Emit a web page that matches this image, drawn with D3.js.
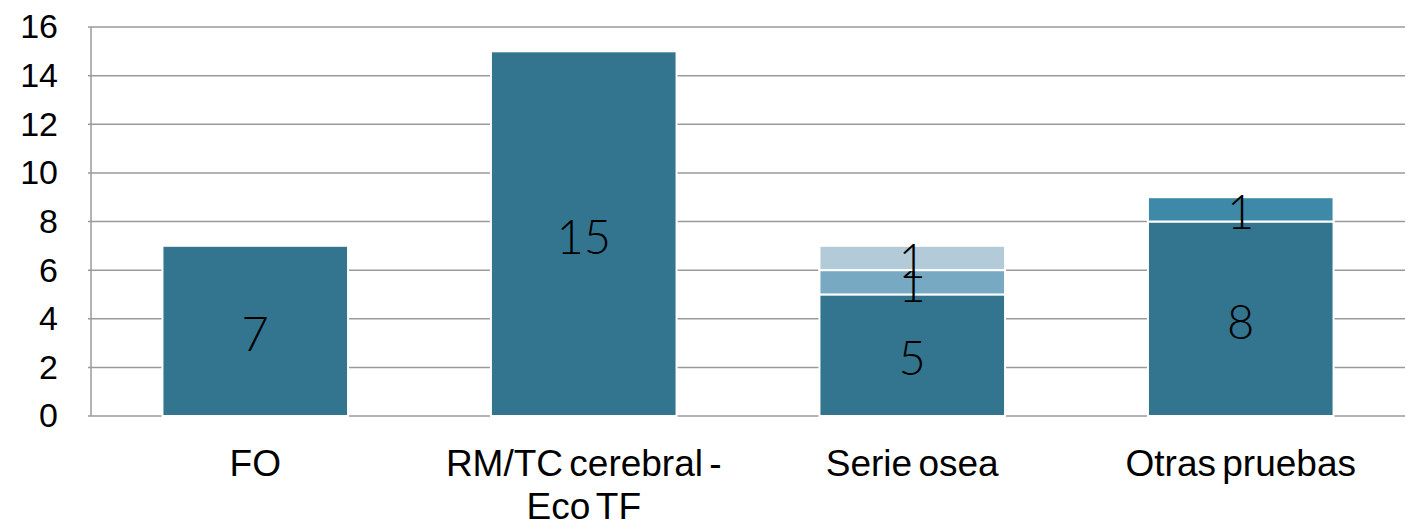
<!DOCTYPE html>
<html>
<head>
<meta charset="utf-8">
<script src="https://cdn.jsdelivr.net/npm/d3@7"></script>
<style>
  body { margin: 0; background: #fff; }
</style>
</head>
<body>
<svg id="chart" width="1411" height="525"></svg>
<script>
// data
var categories = ["FO", "RM/TC cerebral - Eco TF", "Serie osea", "Otras pruebas"];
var catLines = [["FO"], ["RM/TC cerebral -", "Eco TF"], ["Serie osea"], ["Otras pruebas"]];
var seriesA = [7, 15, 5, 8];   // base
var seriesB = [0, 0, 1, 1];    // second segment
var seriesC = [0, 0, 1, 0];    // third segment
var yTicks = [0, 2, 4, 6, 8, 10, 12, 14, 16];

var width = 1411, height = 525;
var margin = {left: 91, right: 6, top: 27, bottom: 109};

var svg = d3.select("#chart");

var x = d3.scaleBand()
    .domain(categories)
    .range([margin.left, width - margin.right])
    .paddingInner(0.435)
    .paddingOuter(0.2175);

var y = d3.scaleLinear()
    .domain([0, 16])
    .range([height - margin.bottom, margin.top]);

// gridlines
svg.append("g")
    .selectAll("line")
    .data(yTicks)
    .enter().append("line")
    .attr("x1", margin.left - 3)
    .attr("x2", width - margin.right)
    .attr("y1", d => y(d))
    .attr("y2", d => y(d))
    .attr("stroke", "#9a9a9a")
    .attr("stroke-width", 1.5);

// left axis line
svg.append("line")
    .attr("x1", margin.left).attr("x2", margin.left)
    .attr("y1", y(16)).attr("y2", y(0))
    .attr("stroke", "#9a9a9a").attr("stroke-width", 1.5);

// y tick labels
var yAxis = svg.append("g")
    .attr("transform", "translate(" + margin.left + ",0)")
    .call(d3.axisLeft(y).tickValues(yTicks).tickSize(0).tickPadding(33));
yAxis.select(".domain").remove();
yAxis.selectAll("text")
    .attr("font-family", "'Liberation Sans', Arial, sans-serif")
    .attr("font-size", 34)
    .attr("fill", "#000");

// stacks
var rows = categories.map(function(c, i) {
    return {cat: c, a: seriesA[i], b: seriesB[i], c: seriesC[i]};
});
var stack = d3.stack().keys(["a", "b", "c"])(rows);
var colors = {
    a: ["#33758f", "#33758f", "#33758f", "#33758f"],
    b: ["#78a9c2", "#78a9c2", "#78a9c2", "#3e89a8"],
    c: ["#b3cbd8", "#b3cbd8", "#b3cbd8", "#b3cbd8"]
};

stack.forEach(function(layer) {
    var key = layer.key;
    var g = svg.append("g");
    g.selectAll("rect")
        .data(layer.filter(d => d[1] > d[0]))
        .enter().append("rect")
        .attr("x", d => x(d.data.cat))
        .attr("width", x.bandwidth())
        .attr("y", d => y(d[1]))
        .attr("height", d => y(d[0]) - y(d[1]))
        .attr("fill", d => colors[key][categories.indexOf(d.data.cat)])
        .attr("stroke", "#fff")
        .attr("stroke-width", 2);

    g.selectAll("text")
        .data(layer.filter(d => d[1] > d[0]))
        .enter().append("text")
        .attr("x", d => x(d.data.cat) + x.bandwidth() / 2)
        .attr("y", d => (y(d[0]) + y(d[1])) / 2 + 3)
        .attr("dy", "0.36em")
        .attr("text-anchor", "middle")
        .attr("font-family", "Lato, 'Open Sans', sans-serif")
        .attr("font-weight", 300)
        .attr("font-size", 47)
        .attr("fill", "#000")
        .text(d => d[1] - d[0]);
});

// category labels
var catG = svg.append("g");
categories.forEach(function(c, i) {
    var t = catG.append("text")
        .attr("x", x(c) + x.bandwidth() / 2)
        .attr("y", 476)
        .attr("text-anchor", "middle")
        .attr("font-family", "'Liberation Sans', Arial, sans-serif")
        .attr("font-size", 37)
        .attr("word-spacing", -4)
        .attr("fill", "#000");
    catLines[i].forEach(function(line, j) {
        t.append("tspan")
            .attr("x", x(c) + x.bandwidth() / 2)
            .attr("dy", j === 0 ? 0 : 43)
            .text(line);
    });
});
</script>
</body>
</html>
